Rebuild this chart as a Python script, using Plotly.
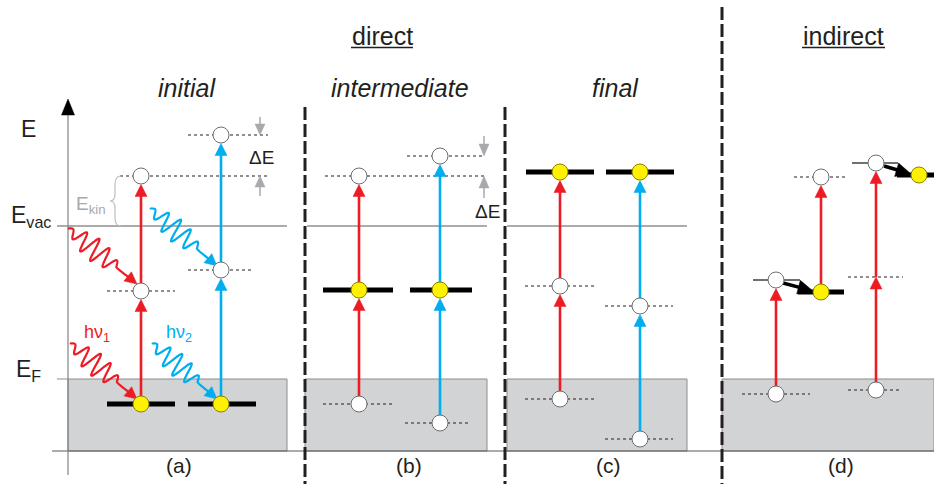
import numpy as np
import plotly.graph_objects as go

# ---------------- data (pixel-like energy coordinates, y grows downward) ----------------
RED = "#ED1C24"
BLUE = "#00AEEF"
YELLOW = "#FFF200"
GREYBOX = "#D1D3D4"
GREYARROW = "#A7A9AC"
INK = "#231F20"

E_VAC = 226
E_F = 379
E_BOTTOM = 451

panel_left = [68, 305, 507, 722]
panel_right = [287, 487, 687, 934]
panel_labels = ["(a)", "(b)", "(c)", "(d)"]
panel_label_x = [179, 409, 608, 841]
stage_titles = ["initial", "intermediate", "final"]
stage_title_x = [187, 400, 615]
separator_x = [305, 505, 722]
separator_top = [107, 107, 7]

# panel (a) initial: two columns (red hv1, blue hv2)
a_x = [141, 221]
a_ground = [404, 404]
a_mid = [291, 270]
a_top = [176, 135]
# panel (b) intermediate
b_x = [359, 440]
b_ground = [404, 423]
b_mid = [290, 290]
b_top = [176, 156]
# panel (c) final
c_x = [560, 640]
c_ground = [399, 439]
c_mid = [286, 306]
c_top = [172, 172]
# panel (d) indirect
d_x = [776, 876]
d_ground = [394, 390]
d_mid = [280, 277]
d_relax_x = [821, 919]
d_relax_y = [292, 175]
d_top_x = [821, 876]
d_top = [177, 163]

col_colors = [RED, BLUE]

# photons
ph_x0 = [68, 70, 150, 152]
ph_y0 = [228, 343, 208, 343]
ph_x1 = [137, 137, 217, 217]
ph_y1 = [284, 399, 266, 399]
ph_col = [RED, RED, BLUE, BLUE]

fig = go.Figure()
shapes = []


def line(x0, y0, x1, y1, color, width, dash=None, layer="below"):
    d = dict(type="line", x0=x0, y0=y0, x1=x1, y1=y1, xref="x", yref="y",
             line=dict(color=color, width=width), layer=layer)
    if dash:
        d["line"]["dash"] = dash
    shapes.append(d)


def tri(p1, p2, p3, color, layer="below"):
    path = "M {} {} L {} {} L {} {} Z".format(p1[0], p1[1], p2[0], p2[1], p3[0], p3[1])
    shapes.append(dict(type="path", path=path, xref="x", yref="y", fillcolor=color,
                       line=dict(color=color, width=0.5), layer=layer))


def arrow(x0, y0, x1, y1, color, width=2.6, hl=12, hw=12, layer="below"):
    v = np.array([x1 - x0, y1 - y0], dtype=float)
    L = np.hypot(*v)
    d = v / L
    n = np.array([-d[1], d[0]])
    tip = np.array([x1, y1], dtype=float)
    base = tip - d * hl
    line(x0, y0, base[0] + d[0], base[1] + d[1], color, width, layer=layer)
    tri(tip, base + n * hw / 2, base - n * hw / 2, color, layer=layer)


def dotted(xa, xb, y):
    line(xa, y, xb, y, "#231F20", 1.2, dash="3px,3px")


R = 8.5  # circle radius (px)

# gray bulk boxes
for l, r in zip(panel_left, panel_right):
    shapes.append(dict(type="rect", x0=l, x1=r, y0=E_F, y1=E_BOTTOM, xref="x", yref="y",
                       fillcolor=GREYBOX, line=dict(color="#8A8C8E", width=1), layer="below"))
# vacuum lines
vac_left = [57, 307, 507]
vac_right = [287, 487, 687]
for l, r in zip(vac_left, vac_right):
    line(l, E_VAC, r, E_VAC, "#58595B", 1)
# E_F line in panel (a) extends left
line(57, E_F, 68, E_F, "#8A8C8E", 1)
# bottom line
line(52, E_BOTTOM, 934, E_BOTTOM, "#58595B", 1)
# energy axis
line(68, 475, 68, 112, "#808285", 1.2)
tri((68, 99), (61.5, 115), (74.5, 115), "#000000")

# separators
for sx, st in zip(separator_x, separator_top):
    line(sx, st, sx, 484, "#231F20", 3, dash="13px,4px")

# underline titles
line(351, 47.5, 413, 47.5, INK, 1.5)
line(802, 47.5, 885, 47.5, INK, 1.5)

# ---------- panel (a) ----------
dotted(107, 175, a_mid[0])
dotted(188, 254, a_mid[1])
dotted(120, 268, a_top[0])
dotted(188, 268, a_top[1])
line(107, a_ground[0], 175, a_ground[0], "#000000", 5)
line(188, a_ground[1], 256, a_ground[1], "#000000", 5)
for i in range(2):
    arrow(a_x[i], a_ground[i], a_x[i], a_mid[i] + R, col_colors[i])
    arrow(a_x[i], a_mid[i], a_x[i], a_top[i] + R, col_colors[i])
# Delta E arrows (a)
line(260, 117, 260, 126, GREYARROW, 1.5)
tri((260, a_top[1]), (255, 124), (265, 124), GREYARROW)
line(260, 196, 260, 186, GREYARROW, 1.5)
tri((260, a_top[0]), (255, 187), (265, 187), GREYARROW)
# E_kin brace
shapes.append(dict(type="path", xref="x", yref="y", layer="below",
                   path="M 121 176 Q 115 176 115 184 L 115 194 Q 115 201 110 201 "
                        "Q 115 201 115 208 L 115 218 Q 115 226 121 226",
                   line=dict(color="#BCBEC0", width=1.2)))

# ---------- panel (b) ----------
dotted(323, 393, b_ground[0])
dotted(405, 470, b_ground[1])
dotted(325, 484, b_top[0])
dotted(407, 484, b_top[1])
line(323, b_mid[0], 393, b_mid[0], "#000000", 5)
line(410, b_mid[1], 472, b_mid[1], "#000000", 5)
for i in range(2):
    arrow(b_x[i], b_ground[i], b_x[i], b_mid[i] + R, col_colors[i])
    arrow(b_x[i], b_mid[i], b_x[i], b_top[i] + R, col_colors[i])
line(484, 136, 484, 145, GREYARROW, 1.5)
tri((484, b_top[1]), (479, 144), (489, 144), GREYARROW)
line(484, 198, 484, 187, GREYARROW, 1.5)
tri((484, b_top[0]), (479, 188), (489, 188), GREYARROW)

# ---------- panel (c) ----------
dotted(525, 594, c_ground[0])
dotted(605, 673, c_ground[1])
dotted(525, 594, c_mid[0])
dotted(605, 673, c_mid[1])
line(526, c_top[0], 594, c_top[0], "#000000", 5)
line(606, c_top[1], 674, c_top[1], "#000000", 5)
for i in range(2):
    arrow(c_x[i], c_ground[i], c_x[i], c_mid[i] + R, col_colors[i])
    arrow(c_x[i], c_mid[i], c_x[i], c_top[i] + R, col_colors[i])

# ---------- panel (d) ----------
dotted(742, 810, d_ground[0])
dotted(848, 902, d_ground[1])
dotted(794, 848, d_top[0])
dotted(848, 903, d_mid[1])
line(753, d_mid[0], 800, d_mid[0], "#414042", 1.5)
line(852, d_top[1], 898, d_top[1], "#414042", 1.5)
line(798, d_relax_y[0], 844, d_relax_y[0], "#000000", 5)
line(897, d_relax_y[1], 934, d_relax_y[1], "#000000", 5)
# excitations
arrow(d_x[0], d_ground[0], d_x[0], d_mid[0] + R, RED)
arrow(d_relax_x[0], d_relax_y[0], d_top_x[0], d_top[0] + R, RED)
arrow(d_x[1], d_ground[1], d_x[1], d_mid[1], RED)
arrow(d_x[1], d_mid[1], d_x[1], d_top[1] + R, RED)
# relaxation (black)
arrow(d_x[0] + 7, d_mid[0] + 3, d_relax_x[0] - 8, d_relax_y[0] - 1, "#000000", width=3.5, hl=15, hw=14)
arrow(d_x[1] + 8, d_top[1] + 3, d_relax_x[1] - 8, d_relax_y[1] - 1, "#000000", width=3.5, hl=15, hw=14)

# ---------- photons (wavy arrows) ----------
for x0, y0, x1, y1, col in zip(ph_x0, ph_y0, ph_x1, ph_y1, ph_col):
    v = np.array([x1 - x0, y1 - y0], dtype=float)
    L = np.hypot(*v)
    d = v / L
    n = np.array([d[1], -d[0]])
    hl = 12
    wl = 0.7 * L
    t = np.linspace(0, 1, 240)
    env = np.sin(np.pi * np.clip(t * 0.9, 0, 1)) ** 0.9
    off = 11.5 * env * np.sin(2 * np.pi * 4.5 * t)
    s = t * wl
    px = x0 + d[0] * s + n[0] * off
    py = y0 + d[1] * s + n[1] * off
    base = np.array([x1, y1]) - d * hl
    px = np.append(px, base[0] + d[0])
    py = np.append(py, base[1] + d[1])
    fig.add_trace(go.Scatter(x=px, y=py, mode="lines", line=dict(color=col, width=2.2, shape="spline"),
                             hoverinfo="skip", showlegend=False))
    tri((x1, y1), base + n * 6, base - n * 6, col)

# ---------- circles ----------
open_x, open_y, filled_x, filled_y = [], [], [], []
for i in range(2):
    filled_x.append(a_x[i]); filled_y.append(a_ground[i])
    open_x += [a_x[i], a_x[i]]; open_y += [a_mid[i], a_top[i]]
    filled_x.append(b_x[i]); filled_y.append(b_mid[i])
    open_x += [b_x[i], b_x[i]]; open_y += [b_ground[i], b_top[i]]
    filled_x.append(c_x[i]); filled_y.append(c_top[i])
    open_x += [c_x[i], c_x[i]]; open_y += [c_ground[i], c_mid[i]]
open_x += [d_x[0], d_x[1], d_x[0], d_top_x[0], d_top_x[1]]
open_y += [d_ground[0], d_ground[1], d_mid[0], d_top[0], d_top[1]]
filled_x += d_relax_x
filled_y += d_relax_y

fig.add_trace(go.Scatter(x=open_x, y=open_y, mode="markers", hoverinfo="skip", showlegend=False,
                         cliponaxis=False,
                         marker=dict(size=16, color="white", line=dict(color="#6D6E71", width=1))))
fig.add_trace(go.Scatter(x=filled_x, y=filled_y, mode="markers", hoverinfo="skip", showlegend=False,
                         cliponaxis=False,
                         marker=dict(size=16, color=YELLOW, line=dict(color="#8C8200", width=1))))

# ---------- text ----------
FONT = "Liberation Sans, Arial, sans-serif"
ann = []


def text(x, y, s, size, color=INK, xanchor="center", italic=False):
    if italic:
        s = "<i>" + s + "</i>"
    ann.append(dict(x=x, y=y, xref="x", yref="y", text=s, showarrow=False,
                    xanchor=xanchor, yanchor="middle",
                    font=dict(family=FONT, size=size, color=color)))


text(382, 36, "direct", 25)
text(843, 36, "indirect", 25)
for tx, tt in zip(stage_title_x, stage_titles):
    text(tx, 88, tt, 25, italic=True)
for lx, lt in zip(panel_label_x, panel_labels):
    text(lx, 465, lt, 21)
text(28, 129, "E", 23)
text(9, 216, "E<sub>vac</sub>", 23, xanchor="left")
text(14, 370, "E<sub>F</sub>", 23, xanchor="left")
text(74, 205, "E<sub>kin</sub>", 19, color="#A7A9AC", xanchor="left")
text(82, 333, "hν<sub>1</sub>", 18, color=RED, xanchor="left")
text(164, 333, "hν<sub>2</sub>", 18, color=BLUE, xanchor="left")
text(261, 157, "ΔE", 19)
text(487, 211, "ΔE", 19)

fig.update_layout(
    width=934, height=484,
    margin=dict(l=0, r=0, t=0, b=0),
    paper_bgcolor="white", plot_bgcolor="white",
    xaxis=dict(range=[0, 934], visible=False, fixedrange=True),
    yaxis=dict(range=[484, 0], visible=False, fixedrange=True),
    shapes=shapes, annotations=ann, showlegend=False,
)
fig.write_html(
    "out.html",
    config={"displayModeBar": False, "staticPlot": True},
    post_script="document.body.style.margin='0';document.body.style.overflow='hidden';",
)
